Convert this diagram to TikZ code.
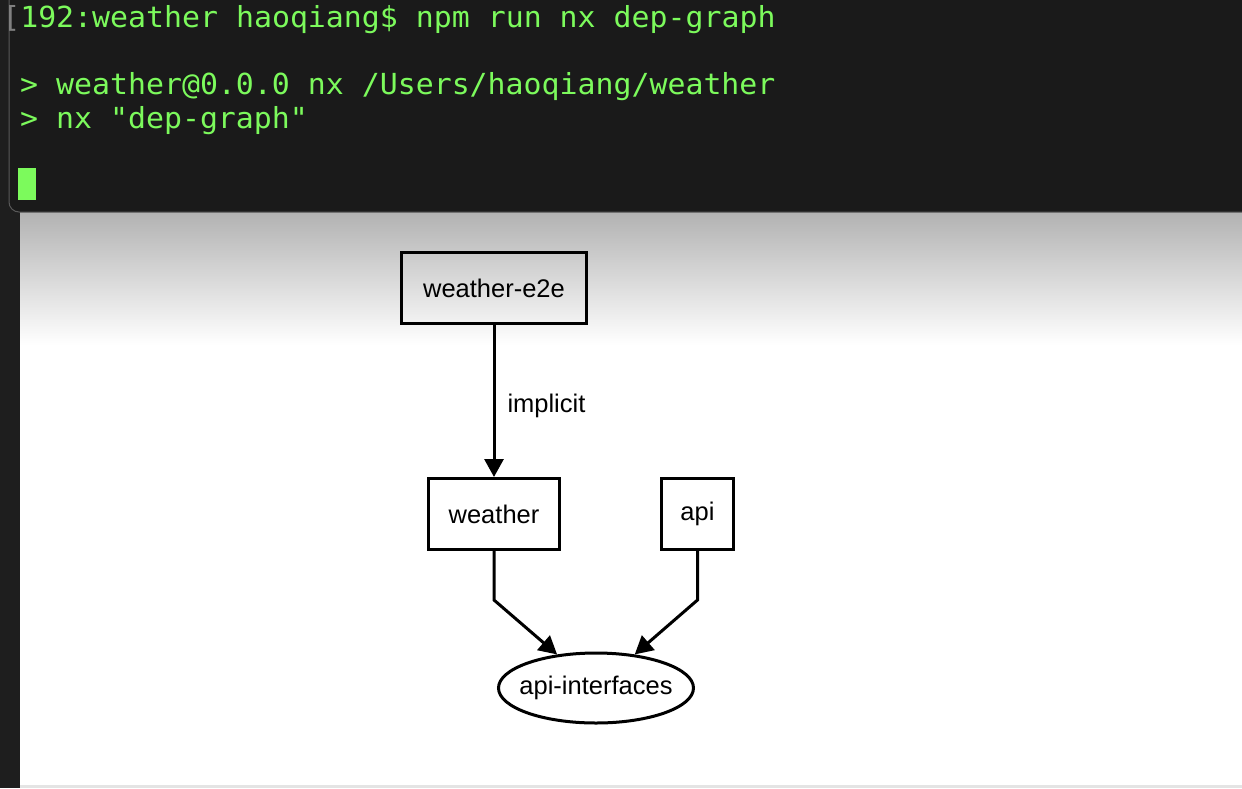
\documentclass[tikz,border=0pt]{standalone}
\usepackage{fontspec}
\setmainfont{Liberation Sans}
\newfontfamily\termfont{DejaVu Sans Mono}[FakeStretch=1.03]
\usepackage{tikz}
\usetikzlibrary{shapes, arrows.meta, positioning}

\definecolor{termbg}{HTML}{1A1A1A}
\definecolor{termgreen}{HTML}{7CFA5C}
\definecolor{stripbg}{HTML}{1E1E1E}
\definecolor{shadowgray}{HTML}{B2B2B2}
\definecolor{bottomgray}{HTML}{E4E4E4}

\begin{document}
\begin{tikzpicture}[
			x=1pt, y=-1pt,
			termline/.style={
				anchor=base west,
				inner sep=0pt,
				font=\termfont\fontsize{29}{29}\selectfont,
				text=termgreen
			},
			proj/.style={
				rectangle,
				draw,
				line width=3pt,
				minimum height=71pt,
				inner sep=0pt,
				font=\fontsize{25.5}{25.5}\selectfont
			},
			lib/.style={
				ellipse,
				draw,
				line width=3pt,
				minimum width=195pt,
				minimum height=70pt,
				inner xsep=-12pt,
				inner ysep=0pt,
				font=\fontsize{25.5}{25.5}\selectfont
			},
			dep/.style={
				-{Triangle[length=18pt, width=19pt]},
				line width=3pt
			},
			edgelabel/.style={
				inner sep=0pt,
				font=\fontsize{25.5}{25.5}\selectfont
			}
			]
			\useasboundingbox (0,0) rectangle (1242,788);
			
			% Window backgrounds
			\fill[stripbg] (0,0) rectangle (1242,788);
			\fill[white] (20,212) rectangle (1242,785);
			\shade[top color=shadowgray, bottom color=white] (20,212) rectangle (1242,345);
			\fill[bottomgray] (20,785) rectangle (1242,788);
			
			% Terminal window
			\fill[termbg, rounded corners=10pt] (9,-20) rectangle (1262,212);
			\draw[black!65, line width=1pt, rounded corners=10pt] (9,-20) -- (9,212) -- (1262,212);
			
			% Terminal lines
			\node[termline] (prompt) at (2.1,27.5) {\textcolor{gray}{[}192:weather haoqiang\$ npm run nx dep-graph};
			\node[termline] (npmcmd) at (20,94.5) {> weather@0.0.0 nx /Users/haoqiang/weather};
			\node[termline] (nxcmd) at (20,128.5) {> nx "dep-graph"};
			\node[fill=termgreen, minimum width=18pt, minimum height=32pt, inner sep=0pt] (cursor) at (27,184) {};
			
			% Projects
			\node[proj, minimum width=185pt] (e2e) at (494,288) {weather-e2e};
			\node[proj, minimum width=131pt, below=152pt of e2e] (weather) {weather};
			\node[proj, minimum width=72pt, right=99pt of weather] (api) {api};
			
			% Library
			\node[lib] (ifaces) at (596,688) {api-interfaces};
			
			% Dependencies
			\draw[dep] (e2e) -- node[edgelabel, right=12pt, yshift=-5pt] {implicit} (weather);
			\draw[dep] (weather.south) -- ++(0,49) -- (ifaces);
			\draw[dep] (api.south) -- ++(0,49) -- (ifaces);
			
		\end{tikzpicture}
\end{document}
